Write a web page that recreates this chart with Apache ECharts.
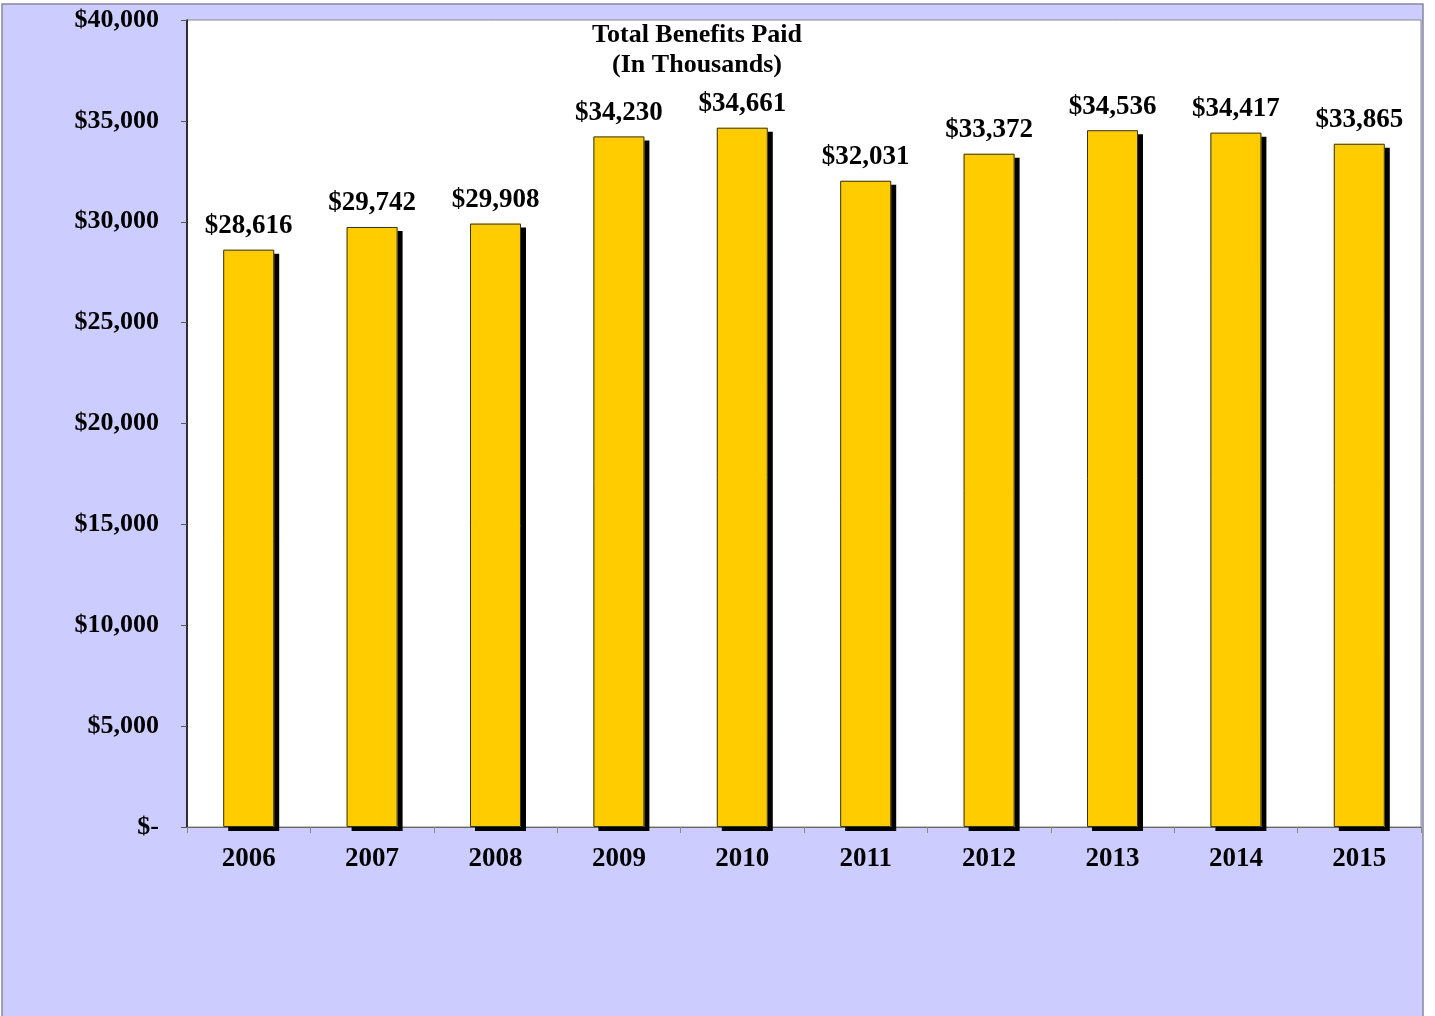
<!DOCTYPE html>
<html>
<head>
<meta charset="utf-8">
<script src="https://cdn.jsdelivr.net/npm/echarts@6/dist/echarts.min.js"></script>
<style>
  html, body { margin: 0; padding: 0; background: #ffffff; }
  #chart { width: 1435px; height: 1016px; }
</style>
</head>
<body>
<div id="chart"></div>
<script>
const years = ['2006', '2007', '2008', '2009', '2010', '2011', '2012', '2013', '2014', '2015'];
const benefits = [28616, 29742, 29908, 34230, 34661, 32031, 33372, 34536, 34417, 33865];
const titleLines = ['Total Benefits Paid', '(In Thousands)'];

const serif = '"Liberation Serif", "DejaVu Serif", serif';

function money(v) {
  if (v === 0) return '$-';
  return '$' + v.toLocaleString('en-US');
}

const chart = echarts.init(document.getElementById('chart'));
const option = {
  animation: false,
  backgroundColor: '#ffffff',
  graphic: [
    {
      type: 'rect',
      z: -10,
      shape: { x: 2, y: 4, width: 1421, height: 1014 },
      style: { fill: '#ccccff', stroke: '#8888a0', lineWidth: 1.5 }
    }
  ],
  title: {
    text: titleLines.join('\n'),
    left: 692,
    top: 15,
    textAlign: 'center',
    textStyle: {
      fontFamily: serif,
      fontWeight: 'bold',
      fontSize: 26,
      lineHeight: 30,
      color: '#000'
    }
  },
  grid: {
    left: 187,
    right: 14,
    top: 20,
    bottom: 189,
    containLabel: false,
    show: true,
    backgroundColor: '#ffffff',
    borderColor: '#888888',
    borderWidth: 1
  },
  xAxis: {
    type: 'category',
    data: years,
    axisLine: { lineStyle: { color: '#666666', width: 1 } },
    axisTick: { show: true, length: 6, alignWithLabel: false, lineStyle: { color: '#888888' } },
    axisLabel: {
      margin: 19,
      fontFamily: serif,
      fontWeight: 'bold',
      fontSize: 27,
      color: '#000'
    }
  },
  yAxis: {
    type: 'value',
    min: 0,
    max: 40000,
    interval: 5000,
    splitLine: { show: false },
    axisLine: { show: true, lineStyle: { color: '#000000', width: 1.5 } },
    axisTick: { show: true, length: 6, lineStyle: { color: '#555555' } },
    axisLabel: {
      margin: 28,
      formatter: money,
      fontFamily: serif,
      fontWeight: 'bold',
      fontSize: 26,
      color: '#000'
    }
  },
  series: [
    {
      // filled bar with the hard black drop shadow
      type: 'bar',
      data: benefits,
      barWidth: 51,
      itemStyle: {
        color: '#ffcc00',
        borderWidth: 0,
        shadowColor: '#000000',
        shadowBlur: 0,
        shadowOffsetX: 5,
        shadowOffsetY: 4
      },
      label: {
        show: true,
        position: 'top',
        distance: 10,
        formatter: p => money(p.value),
        fontFamily: serif,
        fontWeight: 'bold',
        fontSize: 27,
        color: '#000'
      }
    },
    {
      // thin outline drawn over the same bars
      type: 'bar',
      data: benefits,
      barWidth: 51,
      barGap: '-100%',
      silent: true,
      itemStyle: {
        color: 'rgba(0,0,0,0)',
        borderColor: '#333333',
        borderWidth: 1
      }
    }
  ]
};
chart.setOption(option);
</script>
</body>
</html>
